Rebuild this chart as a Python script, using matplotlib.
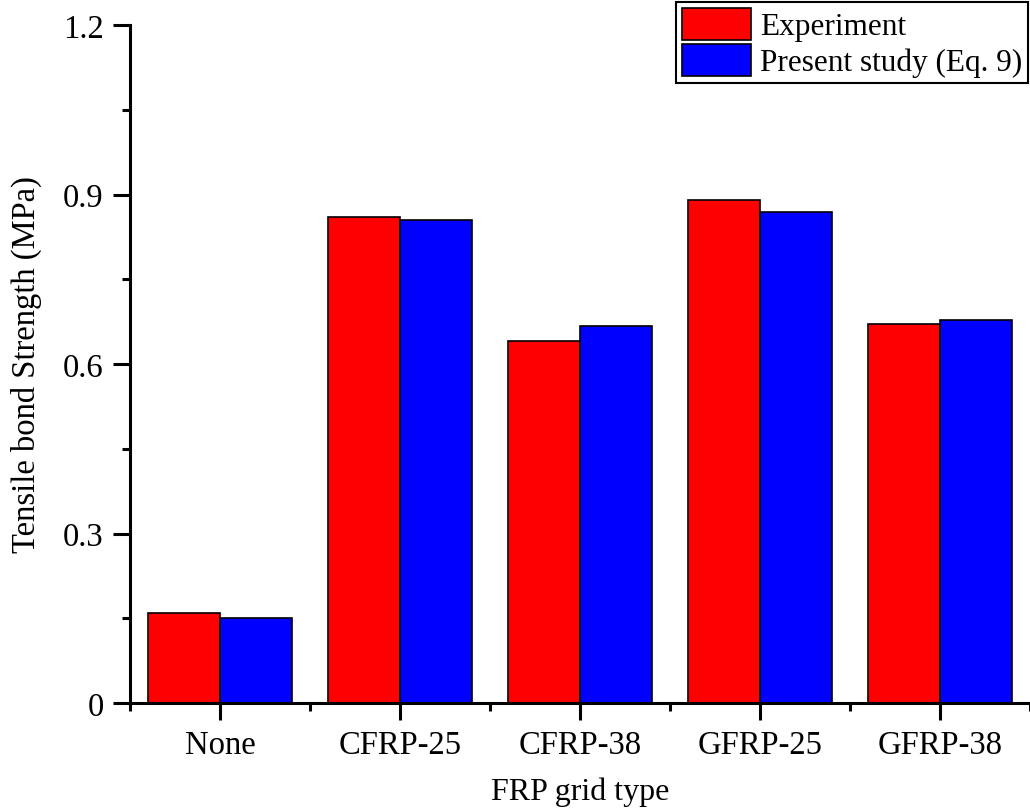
import matplotlib
matplotlib.use("Agg")
import matplotlib.pyplot as plt
import numpy as np
from matplotlib.ticker import MultipleLocator, FixedLocator

categories = ["None", "CFRP-25", "CFRP-38", "GFRP-25", "GFRP-38"]
experiment = [0.16, 0.86, 0.641, 0.89, 0.670]
present = [0.151, 0.855, 0.667, 0.869, 0.677]
series_names = ["Experiment", "Present study (Eq. 9)"]
yticks = [0, 0.3, 0.6, 0.9, 1.2]
ytick_labels = ["0", "0.3", "0.6", "0.9", "1.2"]

plt.rcParams['font.family'] = ['Liberation Serif', 'DejaVu Serif']
plt.rcParams['mathtext.fontset'] = 'stix'

fig = plt.figure(figsize=(10.3, 8.12), dpi=100)
ax = fig.add_axes([130/1030, 108/812, 900/1030, 678/812])

x = np.arange(1, len(categories) + 1)
w = 0.4
ax.bar(x - w/2, experiment, width=w, color='#ff0000', edgecolor='black', linewidth=1.2, label=series_names[0])
ax.bar(x + w/2, present, width=w, color='#0000ff', edgecolor='black', linewidth=1.2, label=series_names[1])

ax.set_xlim(0.5, 5.5)
ax.set_ylim(0, 1.2)
ax.set_xticks(x)
ax.set_xticklabels(categories)
ax.xaxis.set_minor_locator(FixedLocator(np.arange(0.5, 5.6, 1.0)))
ax.set_yticks(yticks)
ax.set_yticklabels(ytick_labels)
ax.yaxis.set_minor_locator(MultipleLocator(0.15))

for s in ['top', 'right']:
    ax.spines[s].set_visible(False)
for s in ['left', 'bottom']:
    ax.spines[s].set_linewidth(2.2)

ax.tick_params(axis='both', which='major', direction='out', length=12, width=2.2, labelsize=23.5, pad=7)
ax.tick_params(axis='both', which='minor', direction='out', length=6, width=2.2)

ax.set_xlabel("FRP grid type", fontsize=23, labelpad=12)
ax.set_ylabel("Tensile bond Strength (MPa)", fontsize=23.5, labelpad=15)

leg = fig.legend(loc='upper right', bbox_to_anchor=(1028/1030, 1 - 3/812), fontsize=22.5,
                 frameon=True, fancybox=False, edgecolor='black', framealpha=1,
                 handlelength=2.2, handleheight=1.2, handletextpad=0.3,
                 borderpad=0.18, labelspacing=0.08, borderaxespad=0)
leg.get_frame().set_linewidth(1.5)

fig.savefig("out.png", dpi=100)
